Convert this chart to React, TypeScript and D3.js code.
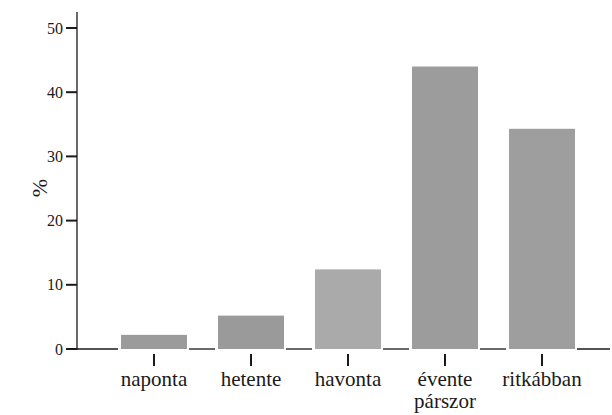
import React from 'react';
import * as d3 from 'd3';

const categories = ['naponta', 'hetente', 'havonta', 'évente párszor', 'ritkábban'];
const values = [2.2, 5.2, 12.4, 44.0, 34.3];
const barColors = ['#9b9b9b', '#9a9a9a', '#aaaaaa', '#9c9c9c', '#9e9e9e'];
const yTicks = [0, 10, 20, 30, 40, 50];

const ink = '#1a1a1a';

const App = () => {
  const x = d3.scaleBand<string>()
    .domain(categories)
    .range([105.5, 590.5])
    .paddingInner(0.32)
    .paddingOuter(0.16);
  const y = d3.scaleLinear().domain([0, 50]).range([349, 28]);
  const axisX = 77;
  const bw = x.bandwidth();

  // gaps between bars where the baseline shows
  const edges: number[] = [axisX];
  categories.forEach(c => {
    edges.push(x(c)! - 3);
    edges.push(x(c)! + bw + 2);
  });
  edges.push(610);
  const segments: [number, number][] = [];
  for (let i = 0; i < edges.length; i += 2) segments.push([edges[i], edges[i + 1]]);

  return (
    <svg width={612} height={415} fontFamily="Liberation Serif"
      style={{ position: 'absolute', left: 0, top: 0, background: '#fff' }}>
      {values.map((v, i) => (
        <rect key={categories[i]} x={x(categories[i])} y={y(v)} width={bw}
          height={y(0) - y(v)} fill={barColors[i]} />
      ))}

      {segments.map(([a, b], i) => (
        <line key={i} x1={a} x2={b} y1={y(0)} y2={y(0)} stroke={ink} strokeWidth={1.3} />
      ))}

      {categories.map(c => {
        const cx = x(c)! + bw / 2;
        return (
          <g key={c}>
            <line x1={cx} x2={cx} y1={354} y2={366} stroke={ink} strokeWidth={2} />
            {c.split(' ').map((w, j) => (
              <text key={w} x={cx} y={386 + j * 22} textAnchor="middle" fill={ink}
                fontFamily="Liberation Serif" fontSize={21}>{w}</text>
            ))}
          </g>
        );
      })}

      <line x1={axisX} x2={axisX} y1={12} y2={y(0) + 1} stroke={ink} strokeWidth={1.3} />
      {yTicks.map(t => (
        <g key={t}>
          <line x1={axisX - 11} x2={axisX} y1={y(t)} y2={y(t)} stroke={ink} strokeWidth={2} />
          <text x={axisX - 14} y={y(t) + 5.5} textAnchor="end" fill={ink}
            fontFamily="Liberation Serif" fontSize={16}>{t}</text>
        </g>
      ))}

      <text transform="translate(47,188) rotate(-90)" textAnchor="middle" fill={ink}
        fontFamily="Liberation Serif" fontSize={22}>%</text>
    </svg>
  );
};

export default App;
